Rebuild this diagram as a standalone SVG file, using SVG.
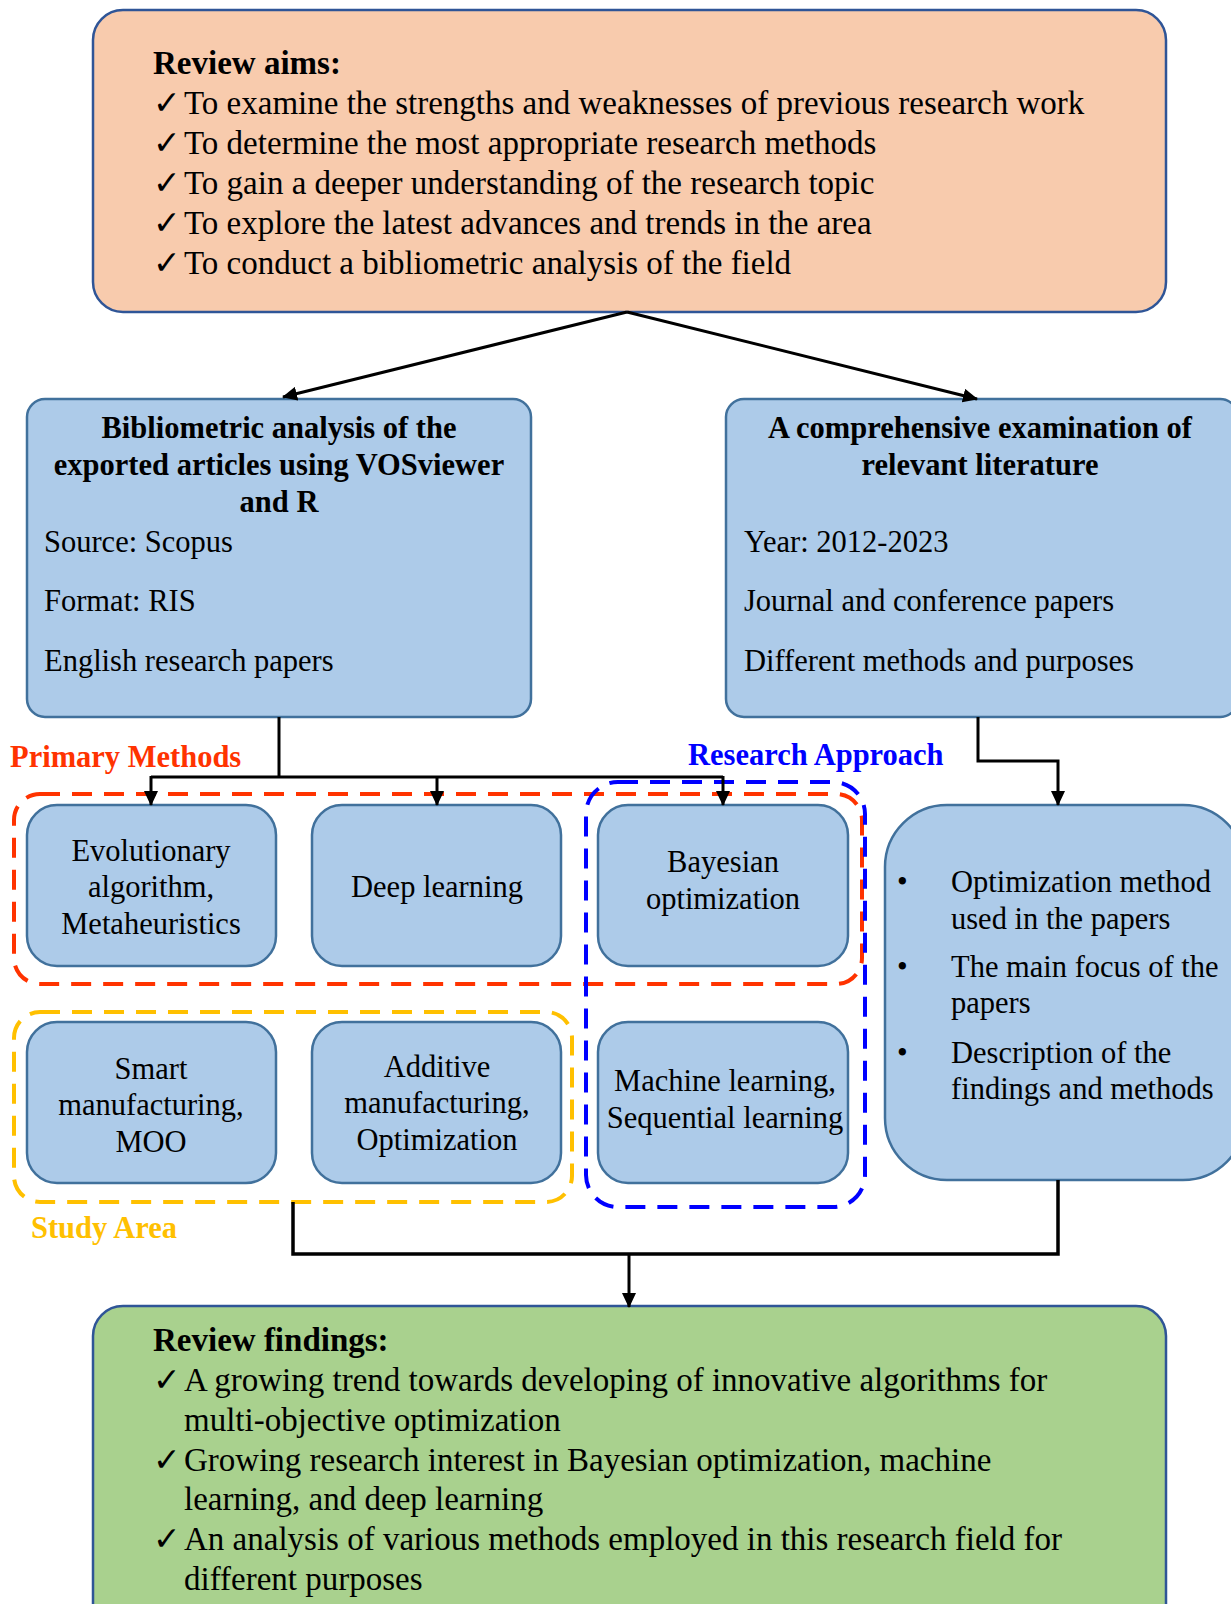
<svg xmlns="http://www.w3.org/2000/svg" width="1231" height="1604" viewBox="0 0 1231 1604">
<defs>
<style>
.t{font-family:"Liberation Serif","Times New Roman",serif;fill:#000}
.big{font-size:33px}
.mid{font-size:30.5px}
.b{font-weight:bold}
.c{text-anchor:middle}
.node{fill:#ADCBE9;stroke:#41719C;stroke-width:2.5}
.conn{fill:none;stroke:#000;stroke-width:3}
.grp{fill:none;stroke-width:4;stroke-dasharray:20 12}
</style>
<marker id="ah" markerWidth="16" markerHeight="14" refX="14" refY="7" orient="auto" markerUnits="userSpaceOnUse">
<path d="M0,0 L15,7 L0,14 Z" fill="#000"/>
</marker>
</defs>
<rect width="1231" height="1604" fill="#fff"/>

<g id="review-aims">
<rect x="93" y="10" width="1073" height="302" rx="30" fill="#F8CBAD" stroke="#2F5597" stroke-width="2.5"/>
<text class="t big b" x="153" y="74">Review aims:</text>
<text class="t big" x="153" y="114">✓</text><text class="t big" x="184" y="114">To examine the strengths and weaknesses of previous research work</text>
<text class="t big" x="153" y="154">✓</text><text class="t big" x="184" y="154">To determine the most appropriate research methods</text>
<text class="t big" x="153" y="194">✓</text><text class="t big" x="184" y="194">To gain a deeper understanding of the research topic</text>
<text class="t big" x="153" y="234">✓</text><text class="t big" x="184" y="234">To explore the latest advances and trends in the area</text>
<text class="t big" x="153" y="274">✓</text><text class="t big" x="184" y="274">To conduct a bibliometric analysis of the field</text>
</g>

<g id="bibliometric">
<rect class="node" x="27" y="399" width="504" height="318" rx="18"/>
<text class="t mid b c" x="279" y="438">Bibliometric analysis of the</text>
<text class="t mid b c" x="279" y="475">exported articles using VOSviewer</text>
<text class="t mid b c" x="279" y="512">and R</text>
<text class="t mid" x="44" y="552">Source: Scopus</text>
<text class="t mid" x="44" y="611">Format: RIS</text>
<text class="t mid" x="44" y="671">English research papers</text>
</g>

<g id="literature">
<rect class="node" x="726" y="399" width="512" height="318" rx="18"/>
<text class="t mid b c" x="980" y="438">A comprehensive examination of</text>
<text class="t mid b c" x="980" y="475">relevant literature</text>
<text class="t mid" x="744" y="552">Year: 2012-2023</text>
<text class="t mid" x="744" y="611">Journal and conference papers</text>
<text class="t mid" x="744" y="671">Different methods and purposes</text>
</g>

<g id="group-primary">
<rect class="grp" x="14" y="794" width="848" height="190" rx="26" stroke="#FF3300"/>
<text class="t mid b" x="10" y="767" style="fill:#FF3300">Primary Methods</text>
</g>
<g id="group-study">
<rect class="grp" x="14" y="1012" width="558" height="190" rx="26" stroke="#FFC000"/>
<text class="t mid b" x="31" y="1238" style="fill:#FFC000">Study Area</text>
</g>
<g id="group-approach">
<rect class="grp" x="586" y="782" width="279" height="425" rx="32" stroke="#0000FF"/>
<text class="t mid b" x="688" y="765" style="fill:#0000FF">Research Approach</text>
</g>

<g id="evolutionary">
<rect class="node" x="27" y="805" width="249" height="161" rx="30"/>
<text class="t mid c" x="151" y="861">Evolutionary</text>
<text class="t mid c" x="151" y="897">algorithm,</text>
<text class="t mid c" x="151" y="934">Metaheuristics</text>
</g>
<g id="deep-learning">
<rect class="node" x="312" y="805" width="249" height="161" rx="30"/>
<text class="t mid c" x="437" y="897">Deep learning</text>
</g>
<g id="bayesian">
<rect class="node" x="598" y="805" width="250" height="161" rx="30"/>
<text class="t mid c" x="723" y="872">Bayesian</text>
<text class="t mid c" x="723" y="909">optimization</text>
</g>
<g id="smart-manufacturing">
<rect class="node" x="27" y="1022" width="249" height="161" rx="30"/>
<text class="t mid c" x="151" y="1079">Smart</text>
<text class="t mid c" x="151" y="1115">manufacturing,</text>
<text class="t mid c" x="151" y="1152">MOO</text>
</g>
<g id="additive-manufacturing">
<rect class="node" x="312" y="1022" width="249" height="161" rx="30"/>
<text class="t mid c" x="437" y="1077">Additive</text>
<text class="t mid c" x="437" y="1113">manufacturing,</text>
<text class="t mid c" x="437" y="1150">Optimization</text>
</g>
<g id="machine-learning">
<rect class="node" x="598" y="1022" width="250" height="161" rx="30"/>
<text class="t mid c" x="725" y="1091">Machine learning,</text>
<text class="t mid c" x="725" y="1128">Sequential learning</text>
</g>

<g id="examination-points">
<rect class="node" x="885" y="805" width="360" height="375" rx="62"/>
<text class="t mid" x="897" y="892">•</text>
<text class="t mid" x="951" y="892">Optimization method</text>
<text class="t mid" x="951" y="929">used in the papers</text>
<text class="t mid" x="897" y="977">•</text>
<text class="t mid" x="951" y="977">The main focus of the</text>
<text class="t mid" x="951" y="1013">papers</text>
<text class="t mid" x="897" y="1063">•</text>
<text class="t mid" x="951" y="1063">Description of the</text>
<text class="t mid" x="951" y="1099">findings and methods</text>
</g>

<g id="review-findings">
<rect x="93" y="1306" width="1073" height="340" rx="30" fill="#A9D18E" stroke="#2F5597" stroke-width="2.5"/>
<text class="t big b" x="153" y="1351">Review findings:</text>
<text class="t big" x="153" y="1391">✓</text><text class="t big" x="184" y="1391">A growing trend towards developing of innovative algorithms for</text>
<text class="t big" x="184" y="1431">multi-objective optimization</text>
<text class="t big" x="153" y="1471">✓</text><text class="t big" x="184" y="1471">Growing research interest in Bayesian optimization, machine</text>
<text class="t big" x="184" y="1510">learning, and deep learning</text>
<text class="t big" x="153" y="1550">✓</text><text class="t big" x="184" y="1550">An analysis of various methods employed in this research field for</text>
<text class="t big" x="184" y="1590">different purposes</text>
</g>

<g id="connectors">
<line class="conn" x1="627" y1="312" x2="283" y2="397" marker-end="url(#ah)"/>
<line class="conn" x1="627" y1="312" x2="977" y2="399" marker-end="url(#ah)"/>
<polyline class="conn" points="279,717 279,777"/>
<polyline class="conn" points="151,777 723,777"/>
<line class="conn" x1="151" y1="776" x2="151" y2="805" marker-end="url(#ah)"/>
<line class="conn" x1="437" y1="776" x2="437" y2="805" marker-end="url(#ah)"/>
<line class="conn" x1="723" y1="776" x2="723" y2="805" marker-end="url(#ah)"/>
<polyline class="conn" points="978,717 978,761 1058,761 1058,805" marker-end="url(#ah)"/>
<polyline class="conn" points="293,1202 293,1254 1058,1254 1058,1180" style="stroke-width:3.5"/>
<line class="conn" x1="629" y1="1254" x2="629" y2="1307" marker-end="url(#ah)"/>
</g>
</svg>
